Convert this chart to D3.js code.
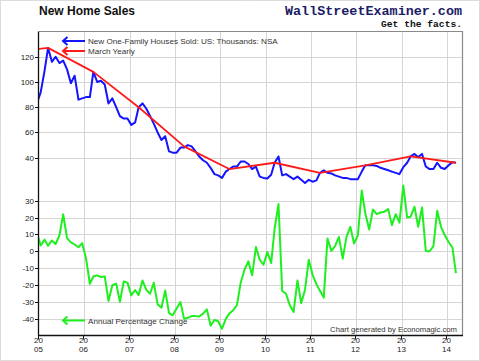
<!DOCTYPE html>
<html><head><meta charset="utf-8">
<script src="https://cdn.jsdelivr.net/npm/d3@7"></script>
<style>
body{margin:0;background:#fff}
svg{display:block}
text{font-family:"Liberation Sans",Arial,sans-serif}
text.mono{font-family:"Liberation Mono","DejaVu Sans Mono",monospace}
</style>
</head><body>
<svg id="c" width="480" height="361"></svg>
<script>
// ---- data (monthly, Dec 2004 .. Mar 2014) ----
const firstYear = 2004, firstMonth = 11; // Dec 2004 (0-based month)
const sales = [
  83,
  92,109,127,116,120,115,117,110,99,105,86,87,
  88,88,108,100,101,98,83,87,80,73,71,71,
  66,68,80,83,79,73,67,60,54,57,45,44,
  44,48,48,50,49,45,41,38,36,32,27,26,
  24,29,31,33,33,37,37,35,31,33,25,24,
  23.5,26.5,36,41,26,27,25,23,25,22.5,20,22.5,
  21,22,28,30,28,27.5,26,25,24,24,23,23,
  23,29,34,34,34,33.5,32,31,30,29,28,27,
  32.5,36,41,43,40.5,43,33,31,31,36,32,31,
  34,36.5,36
];
const pctChange = [
  11,
  3.4,6.9,3.3,6.4,4.3,9.5,21.9,7.8,5.3,4.0,2.4,4.8,
  -4.3,-19.3,-15.0,-14.3,-15.3,-15,-29.5,-20.2,-19.2,-30,-18,-18.6,
  -26.2,-23,-26,-17.3,-22.8,-25.2,-18.7,-31.5,-33.5,-23.3,-36.7,-38,
  -34,-30.2,-40,-39.5,-38.5,-38.5,-38.7,-37,-34.5,-44.2,-40.8,-41.5,
  -46,-40,-37,-35,-32,-18.5,-11,-6,-14.3,2.5,-5,-8,
  -0.4,-7,13.5,28,-23.6,-25.2,-32,-36,-17.3,-30.8,-22.8,-5,
  -14,-19.5,-23.5,-27.5,7.5,0.2,3,8.5,-4.4,8.5,14.5,4.6,
  9.5,36,22.4,12.9,24.8,22,23,23.5,25,15.5,22,17,
  39,20,20.5,26.4,14.5,26,0.2,0,3,24,14.5,9.5,
  5.5,2.2,-13
];
const marchYears  = [2004,2005,2006,2007,2008,2009,2010,2011,2012,2013,2014];
const marchValues = [123,127,108,80,49,31,36,28,34,41,36];
const yearTicks  = [2005,2006,2007,2008,2009,2010,2011,2012,2013,2014];
const salesTicks = [40,60,80,100,120];
const pctTicks   = [30,20,10,0,-10,-20,-30,-40];
const legendSales = "New One-Family Houses Sold: US: Thousands: NSA";
const legendMarch = "March Yearly";
const legendPct   = "Annual Percentage Change";
const titleText   = "New Home Sales";
const brandText   = "WallStreetExaminer.com";
const taglineText = "Get the facts.";
const creditText  = "Chart generated by Economagic.com";

// ---- layout ----
const L = 39, R = 462, T = 31.5, B = 335.5;
const svg = d3.select("#c");

const x = d3.scaleTime().domain([new Date(2005,0,1), new Date(2014,4,3)]).range([L, R]);
const yS = d3.scaleLinear().domain([40,140]).range([157.7, 31.5]);
const yP = d3.scaleLinear().domain([-50,30]).range([335.5, 200.7]);

const monthDate = i => new Date(firstYear, firstMonth + i, 15);

// outer dotted frame
svg.append("rect").attr("x",0.5).attr("y",0.5).attr("width",479).attr("height",360)
  .attr("fill","none").attr("stroke","#b8b8b8").attr("stroke-dasharray","1,1");

// grid
const grid = svg.append("g").attr("stroke","#d6d6d6").attr("stroke-width",1);
yearTicks.slice(1).forEach(yr => {
  const gx = Math.round(x(new Date(yr,0,1))) + 0.5;
  grid.append("line").attr("x1",gx).attr("x2",gx).attr("y1",T).attr("y2",B);
});
salesTicks.forEach(v => {
  const gy = Math.round(yS(v)) + 0.5;
  grid.append("line").attr("x1",L).attr("x2",R).attr("y1",gy).attr("y2",gy);
});
pctTicks.forEach(v => {
  const gy = Math.round(yP(v)) + 0.5;
  grid.append("line").attr("x1",L).attr("x2",R).attr("y1",gy).attr("y2",gy);
});

// frame top / right
svg.append("path").attr("d",`M${L},${T}H${R+0.5}V${B}`).attr("fill","none")
  .attr("stroke","#8a8a8a").attr("stroke-width",1.2);

// clip
svg.append("clipPath").attr("id","plot").append("rect")
  .attr("x",L).attr("y",T).attr("width",R-L).attr("height",B-T);

const gPlot = svg.append("g").attr("clip-path","url(#plot)");
const lineS = d3.line().x((d,i)=>x(monthDate(i))).y(d=>yS(d));
const lineP = d3.line().x((d,i)=>x(monthDate(i))).y(d=>yP(d));
const lineM = d3.line().x((d,i)=>x(new Date(marchYears[i],2,15))).y(d=>yS(d));

gPlot.append("path").datum(pctChange).attr("d",lineP).attr("fill","none")
  .attr("stroke","#1eef1e").attr("stroke-width",2).attr("stroke-linejoin","round");
gPlot.append("path").datum(sales).attr("d",lineS).attr("fill","none")
  .attr("stroke","#1414ff").attr("stroke-width",2).attr("stroke-linejoin","round");
gPlot.append("path").datum(marchValues).attr("d",lineM).attr("fill","none")
  .attr("stroke","#ff1a1a").attr("stroke-width",1.8).attr("stroke-linejoin","round");

// axes lines
svg.append("line").attr("x1",L-0.5).attr("x2",L-0.5).attr("y1",T).attr("y2",B+0.5)
  .attr("stroke","#111").attr("stroke-width",1.3);
svg.append("line").attr("x1",L-1).attr("x2",R+1).attr("y1",B).attr("y2",B)
  .attr("stroke","#111").attr("stroke-width",1.3);

// y ticks + labels
const yTickG = svg.append("g").attr("font-size",8).attr("fill","#222");
function yTick(v, y){
  const py = Math.round(y)+0.5;
  yTickG.append("line").attr("x1",L-4).attr("x2",L).attr("y1",py).attr("y2",py)
    .attr("stroke","#111");
  yTickG.append("text").attr("x",34).attr("y",py).attr("dy","0.35em")
    .attr("text-anchor","end").text(v);
}
salesTicks.forEach(v => yTick(v, yS(v)));
pctTicks.forEach(v => yTick(v, yP(v)));

// x ticks + labels
const xTickG = svg.append("g").attr("font-size",8).attr("fill","#222");
const fmt = d3.timeFormat("%y");
yearTicks.forEach(yr => {
  const d = new Date(yr,0,1);
  const px = Math.round(x(d))-0.5;
  xTickG.append("line").attr("x1",px).attr("x2",px).attr("y1",B).attr("y2",B+4)
    .attr("stroke","#111");
  xTickG.append("text").attr("x",px).attr("y",343).attr("text-anchor","middle").text("20");
  xTickG.append("text").attr("x",px).attr("y",351.5).attr("text-anchor","middle").text(fmt(d));
});

// legend arrows
function arrow(y, color){
  const g = svg.append("g").attr("stroke",color).attr("stroke-width",2).attr("fill","none");
  g.append("line").attr("x1",63).attr("x2",85).attr("y1",y).attr("y2",y);
  g.append("polyline").attr("points",`67.5,${y-4} 63,${y} 67.5,${y+4}`);
}
arrow(41,"#1414ff");
arrow(51,"#ff1a1a");
arrow(320.5,"#1eef1e");
const legG = svg.append("g").attr("font-size",8.1).attr("fill","#333");
legG.append("text").attr("x",88).attr("y",44).text(legendSales);
legG.append("text").attr("x",88).attr("y",54).text(legendMarch);
legG.append("text").attr("x",88).attr("y",323.5).text(legendPct);

// title
svg.append("text").attr("x",39).attr("y",14.5).attr("font-size",12).attr("font-weight","bold")
  .attr("fill","#111").text(titleText);

// brand
svg.append("text").attr("class","mono").attr("x",462).attr("y",14.5).attr("text-anchor","end")
  .attr("font-weight","bold")
  .attr("font-size",13.4).attr("fill","#1c1c66").attr("textLength",177).attr("lengthAdjust","spacingAndGlyphs")
  .text(brandText);
svg.append("text").attr("class","mono").attr("x",462).attr("y",26.5).attr("text-anchor","end")
  .attr("font-weight","bold")
  .attr("font-size",9.8).attr("fill","#111").attr("textLength",81).attr("lengthAdjust","spacingAndGlyphs")
  .text(taglineText);

// credit
svg.append("text").attr("x",457).attr("y",331.5).attr("text-anchor","end")
  .attr("font-size",7.7).attr("fill","#333").text(creditText);
</script>
</body></html>
